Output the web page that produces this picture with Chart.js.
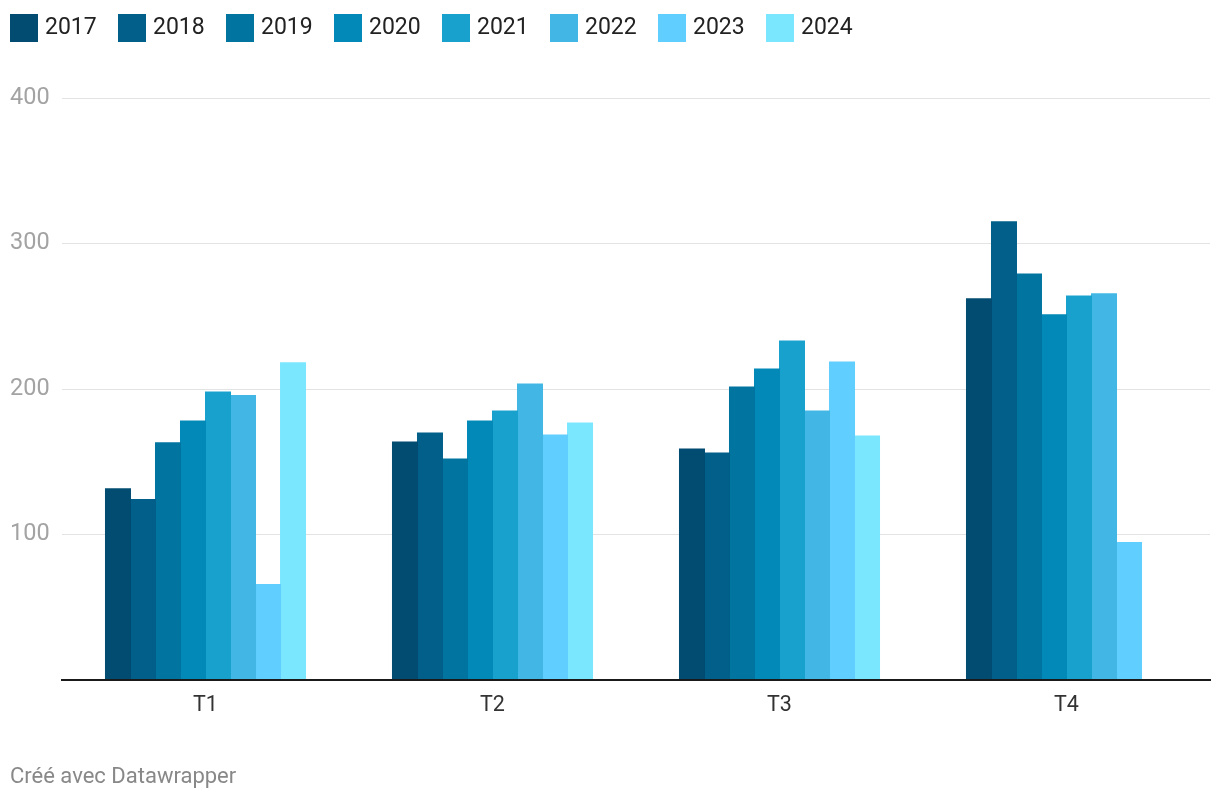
<!DOCTYPE html>
<html>
<head>
<meta charset="utf-8">
<script src="https://cdn.jsdelivr.net/npm/chart.js@4/dist/chart.umd.min.js"></script>
<style>
  html, body { margin: 0; padding: 0; background: #fff; }
  #wrap { position: relative; width: 1220px; height: 802px; font-family: Roboto, "Noto Sans", sans-serif; }
  #legend { position: absolute; left: 0; top: 0; width: 1220px; height: 56px; }
  .item { position: absolute; top: 14px; height: 28px; display: flex; align-items: center; }
  .box { width: 28px; height: 28px; margin-right: 7px; }
  .lbl { font-size: 23px; color: #222; line-height: 28px; position: relative; top: -1px; }
  #footer { position: absolute; left: 10px; top: 763px; font-size: 22px; color: #888; line-height: 26px; }
  canvas { position: absolute; left: 0; top: 0; }
</style>
</head>
<body>
<div id="wrap">
  <canvas id="c" width="1220" height="802"></canvas>
  <div id="legend"></div>
  <div id="footer">Créé avec Datawrapper</div>
</div>
<script>
const categories = ["T1", "T2", "T3", "T4"];
const years = ["2017", "2018", "2019", "2020", "2021", "2022", "2023", "2024"];
const colors = ["#024b71", "#015f89", "#0174a0", "#0389b7", "#19a1ce", "#42b7e5", "#60cefe", "#7be7ff"];
const v2017 = [131.5, 163.6, 158.8, 262];
const v2018 = [124, 169.8, 156, 315];
const v2019 = [163, 151.9, 201.4, 279];
const v2020 = [178, 178, 213.7, 251];
const v2021 = [198, 184.9, 233, 264];
const v2022 = [195.5, 203.4, 184.9, 265.5];
const v2023 = [65.6, 168.4, 218.6, 94.5];
const v2024 = [218, 176.6, 167.7, null];
const seriesValues = [v2017, v2018, v2019, v2020, v2021, v2022, v2023, v2024];
const yTicks = [0, 100, 200, 300, 400];

// HTML legend built from the arrays
const legend = document.getElementById('legend');
years.forEach((y, i) => {
  const it = document.createElement('div');
  it.className = 'item';
  it.style.left = (10 + 108 * i) + 'px';
  it.innerHTML = '<div class="box" style="background:' + colors[i] + '"></div><span class="lbl">' + y + '</span>';
  legend.appendChild(it);
});

const datasets = years.map((y, i) => ({
  label: y,
  data: seriesValues[i],
  backgroundColor: colors[i],
  borderColor: colors[i],
  borderWidth: 0,
  inflateAmount: 0.5,
  categoryPercentage: 0.697,
  barPercentage: 1.0
}));

new Chart(document.getElementById('c'), {
  type: 'bar',
  data: { labels: categories, datasets },
  options: {
    responsive: false,
    animation: false,
    layout: { padding: { top: 98, left: 10, right: 10, bottom: 0 } },
    plugins: { legend: { display: false }, tooltip: { enabled: false } },
    scales: {
      x: {
        grid: { display: false, drawTicks: false },
        border: { display: true, color: '#1a1a1a', width: 2, z: 1 },
        ticks: { color: '#333', font: { family: 'Roboto', size: 21.5 }, padding: 13 },
        afterFit: (s) => { s.height = 122; }
      },
      y: {
        min: 0, max: 400,
        afterBuildTicks: (s) => { s.ticks = yTicks.map(v => ({ value: v })); },
        grid: { color: '#e3e3e3', lineWidth: 1, drawTicks: false },
        border: { display: false },
        ticks: {
          color: '#a3a3a3',
          font: { family: 'Roboto', size: 23.5 },
          crossAlign: 'far',
          padding: 0,
          callback: (v) => v === 0 ? '' : String(v)
        },
        afterFit: (s) => { s.width = 52; }
      }
    }
  }
});
</script>
</body>
</html>
